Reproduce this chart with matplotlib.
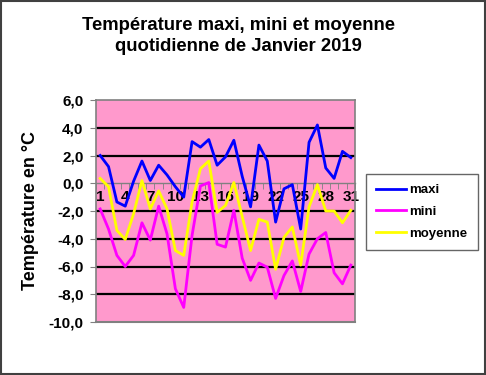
import matplotlib
matplotlib.use("Agg")
import matplotlib.pyplot as plt
from matplotlib.patches import Rectangle
import numpy as np

plt.rcParams['font.family'] = ['Liberation Sans', 'DejaVu Sans']

days = list(range(1, 32))
maxi = [2.0, 1.2, -1.35, -1.65, 0.15, 1.6, 0.2, 1.3, 0.6, -0.25, -1.0, 3.0, 2.6, 3.15, 1.3, 1.9,
        3.1, 0.5, -1.7, 2.75, 1.6, -2.8, -0.4, -0.1, -3.3, 2.95, 4.2, 1.1, 0.35, 2.3, 1.85]
mini = [-1.85, -3.3, -5.2, -6.0, -5.2, -2.85, -4.1, -1.65, -3.65, -7.6, -8.95, -3.75, -0.2, 0.05, -4.4, -4.6,
        -1.95, -5.4, -7.0, -5.75, -6.05, -8.3, -6.65, -5.6, -7.8, -5.1, -4.0, -3.55, -6.45, -7.25, -5.9]
moyenne = [0.35, -0.25, -3.4, -4.05, -2.2, 0.2, -1.85, -0.55, -1.85, -4.85, -5.2, -1.35, 1.05, 1.6, -2.1, -1.6,
           0.05, -2.4, -4.85, -2.6, -2.8, -6.2, -3.9, -3.15, -5.9, -1.7, -0.1, -2.0, -2.0, -2.85, -1.95]
yticks = [6, 4, 2, 0, -2, -4, -6, -8, -10]
ytick_labels = ["6,0", "4,0", "2,0", "0,0", "-2,0", "-4,0", "-6,0", "-8,0", "-10,0"]
xtick_days = list(range(1, 32, 3))

fig = plt.figure(figsize=(4.86, 3.75), dpi=100)
fig.patches.append(Rectangle((0.002, 0.002), 0.995, 0.995, transform=fig.transFigure,
                             fill=False, edgecolor='#404040', lw=1.5))

ax = fig.add_axes([96/486, 1-322/375, 259/486, 222/375])
ax.set_facecolor('#FF99CC')
ax.set_xlim(0.5, 31.5)
ax.set_ylim(-10, 6)

for v in yticks:
    if v not in (0, 6, -10):
        ax.axhline(v, color='black', lw=1.6, zorder=1)

ax.plot(days, maxi, color='#0000FF', lw=2.0, label='maxi', zorder=3)
ax.plot(days, mini, color='#FF00FF', lw=2.0, label='mini', zorder=3)
ax.plot(days, moyenne, color='#FFFF00', lw=2.0, label='moyenne', zorder=3)

for s in ['top', 'right', 'left']:
    ax.spines[s].set_color('#808080')
    ax.spines[s].set_linewidth(1.2)
ax.spines['bottom'].set_position(('data', 0))
ax.spines['bottom'].set_color('#808080')
ax.spines['bottom'].set_linewidth(1.0)
ax.spines['bottom'].set_zorder(2)

ax.axhline(-10, color='#808080', lw=1.5, zorder=2, clip_on=False)

ax.set_yticks(yticks)
ax.set_yticklabels(ytick_labels, fontsize=11, fontweight='bold')
ax.tick_params(axis='y', length=4, color='#808080', pad=5)

ax.set_xticks(xtick_days)
ax.set_xticklabels([str(d) for d in xtick_days], fontsize=11, fontweight='bold')
ax.set_xticks(np.arange(0.5, 32, 1), minor=True)
ax.tick_params(axis='x', which='major', length=0, pad=5)
ax.tick_params(axis='x', which='minor', length=4, color='#808080', direction='out')
for lab in ax.get_xticklabels():
    lab.set_zorder(4)

ax.set_ylabel('Température en °C', fontsize=13, fontweight='bold', labelpad=7)

fig.text(238/486, 1-36/375, 'Température maxi, mini et moyenne\nquotidienne de Janvier 2019',
         ha='center', va='center', fontsize=13.3, fontweight='bold', linespacing=1.28)

leg = fig.legend(loc='upper left', bbox_to_anchor=(366/486, 1-174/375),
                 frameon=True, fancybox=False, edgecolor='#404040', handlelength=2.3,
                 labelspacing=0.72, borderpad=0.75, handletextpad=0.25, borderaxespad=0,
                 prop={'weight': 'bold', 'size': 9.5})
leg.get_frame().set_linewidth(1.0)

fig.savefig('out.png', dpi=100)
